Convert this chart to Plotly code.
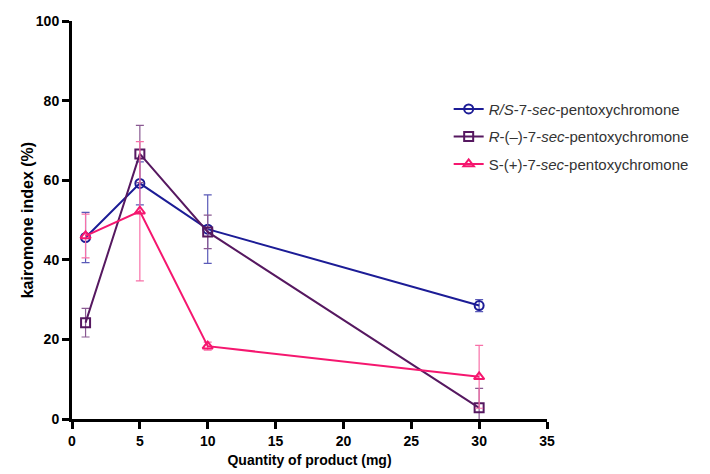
import plotly.graph_objects as go

x_qty = [1, 5, 10, 30]

rs_vals = [45.6, 59.2, 47.7, 28.5]
rs_err = [6.3, 5.4, 8.6, 1.5]

r_vals = [24.2, 66.6, 47.0, 2.8]
r_err = [3.6, 7.2, 4.2, 4.9]

s_vals = [46.0, 52.2, 18.3, 10.6]
s_err = [5.5, 17.5, 1.0, 7.9]

names = ["<i>R/S</i>-7-<i>sec</i>-pentoxychromone",
         "<i>R</i>-(\u2013)-7-<i>sec</i>-pentoxychromone",
         "S-(+)-7-<i>sec</i>-pentoxychromone"]
colors = ["#1c1c96", "#561860", "#f5176f"]
err_colors = ["#5a5ab8", "#8a5a92", "#f870a8"]
symbols = ["circle-open", "square-open", "triangle-up-open"]

fig = go.Figure()
for i, (vals, errs) in enumerate([(rs_vals, rs_err), (r_vals, r_err), (s_vals, s_err)]):
    fig.add_trace(go.Scatter(
        x=x_qty, y=vals, name=names[i], mode="lines+markers",
        legendgroup=str(i),
        line=dict(color=colors[i], width=2),
        marker=dict(symbol=symbols[i], size=9, color=colors[i], line=dict(width=2, color=colors[i])),
        error_y=dict(type="data", array=errs, visible=True, color=err_colors[i], thickness=1.2, width=4),
        cliponaxis=False,
    ))

fam = "Liberation Sans, Arial"
fig.update_layout(
    width=710, height=474,
    margin=dict(l=72, r=163, t=21, b=55),
    paper_bgcolor="white", plot_bgcolor="white",
    font=dict(family=fam, color="black"),
    xaxis=dict(range=[0, 35], tickvals=[0, 5, 10, 15, 20, 25, 30, 35], automargin=False,
               showgrid=False, zeroline=False, showline=True, linecolor="black", linewidth=3,
               ticks="outside", ticklen=7, tickwidth=3, tickcolor="black",
               tickfont=dict(family=fam, size=14, color="black", weight="bold"),
               title=dict(text="<b>Quantity of product (mg)</b>", font=dict(family=fam, size=14, color="black"), standoff=8)),
    yaxis=dict(range=[0, 100], tickvals=[0, 20, 40, 60, 80, 100], automargin=False,
               showgrid=False, zeroline=False, showline=True, linecolor="black", linewidth=3,
               ticks="outside", ticklen=7, tickwidth=3, tickcolor="black",
               tickfont=dict(family=fam, size=14, color="black", weight="bold")),
    annotations=[dict(text="<b>kairomone index (%)</b>", textangle=-90, xref="paper", yref="paper",
                      x=-0.094, y=0.5, xanchor="center", yanchor="middle", showarrow=False,
                      font=dict(family=fam, size=16, color="black"))],
    legend=dict(x=0.793, y=0.82, xanchor="left", yanchor="top",
                font=dict(family=fam, size=15, color="#333333"),
                tracegroupgap=5, traceorder="grouped", bgcolor="rgba(0,0,0,0)"),
    showlegend=True,
)
fig.write_html("out.html")
